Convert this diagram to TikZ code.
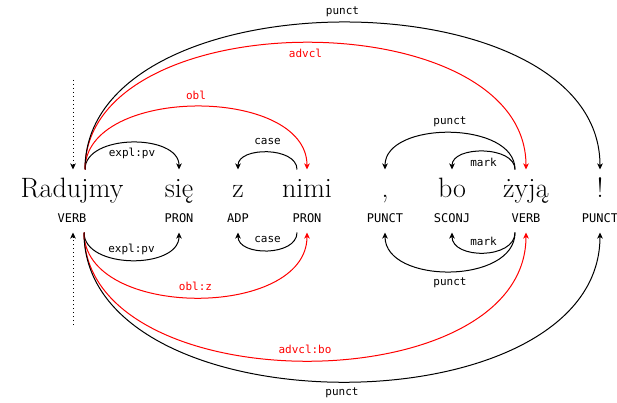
\documentclass[tikz,border=0pt]{standalone}
\usepackage{fontspec}
\setmonofont{DejaVu Sans Mono}
\usetikzlibrary{arrows.meta}

\begin{document}
\begin{tikzpicture}[x=1pt,y=-1pt,line width=1pt,
  >={Stealth[length=6pt,width=5.5pt,inset=1.5pt]},
  word/.style={anchor=base,inner sep=0pt,text height=27pt,font=\fontsize{28}{32}\selectfont},
  tag/.style={anchor=base,inner sep=0pt,text depth=9.3pt,font=\fontsize{12}{14}\ttfamily},
  lbl/.style={midway,inner sep=0pt,font=\fontsize{11}{13}\ttfamily},
  lblhi/.style={lbl,yshift=11pt},
  lbllo/.style={lbl,yshift=-11pt},
  root/.style={->,dash pattern=on 1pt off 3pt}]
\useasboundingbox (0,0) rectangle (617,403);
\foreach \x/\w/\t [count=\i] in {72/Radujmy/VERB,179/się/PRON,238/z/ADP,307/nimi/PRON,385/{,}/PUNCT,452/bo/SCONJ,526/żyją/VERB,600/!/PUNCT}
  {\node[word] (w\i) at (\x,197) {\w};
   \node[tag] (p\i) at (\x,222.7) {\t};}
% root
\coordinate (rootup) at (73,80);
\coordinate (rootdn) at (73,325);
\draw[root] (rootup) -- ([xshift=1pt]w1.north);
\draw[root] (rootdn) -- ([xshift=1pt]p1.south);
% arcs above the words
\draw[->] ([xshift=13pt]w1.north) .. controls +(0,-36) and +(0,-36) .. (w2.north) node[lbllo] {expl:pv};
\draw[->] ([xshift=-10pt]w4.north) .. controls +(0,-23) and +(0,-23) .. (w3.north) node[lblhi] {case};
\draw[->,red] ([xshift=13pt]w1.north) .. controls +(0,-84) and +(0,-84) .. (w4.north) node[lblhi] {obl};
\draw[->,red] ([xshift=13pt]w1.north) .. controls +(0,-169) and +(0,-169) .. (w7.north) node[lbllo] {advcl};
\draw[->] ([xshift=13pt]w1.north) .. controls +(0,-196) and +(0,-196) .. (w8.north) node[lblhi] {punct};
\draw[->] ([xshift=-11pt]w7.north) .. controls +(0,-49) and +(0,-49) .. (w5.north) node[lblhi] {punct};
\draw[->] ([xshift=-11pt]w7.north) .. controls +(0,-24) and +(0,-24) .. (w6.north) node[lbllo] {mark};
% arcs below the tags
\draw[->] ([xshift=12pt]p1.south) .. controls +(0,37) and +(0,37) .. (p2.south) node[lblhi] {expl:pv};
\draw[->] ([xshift=-10pt]p4.south) .. controls +(0,24) and +(0,24) .. (p3.south) node[lblhi] {case};
\draw[->,red] ([xshift=12pt]p1.south) .. controls +(0,87) and +(0,87) .. (p4.south) node[lblhi] {obl:z};
\draw[->,red] ([xshift=12pt]p1.south) .. controls +(0,171) and +(0,171) .. (p7.south) node[lblhi] {advcl:bo};
\draw[->] ([xshift=12pt]p1.south) .. controls +(0,199) and +(0,199) .. (p8.south) node[lbllo] {punct};
\draw[->] ([xshift=-11pt]p7.south) .. controls +(0,52) and +(0,52) .. (p5.south) node[lbllo] {punct};
\draw[->] ([xshift=-11pt]p7.south) .. controls +(0,27) and +(0,27) .. (p6.south) node[lblhi] {mark};
\end{tikzpicture}
\end{document}
